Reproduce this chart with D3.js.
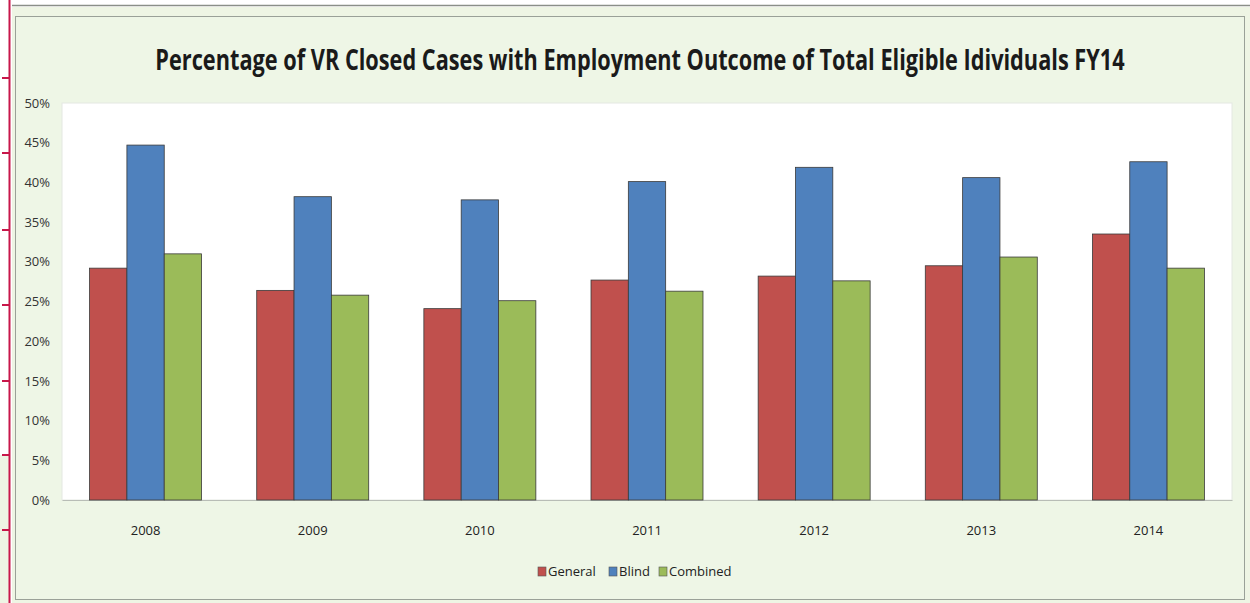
<!DOCTYPE html>
<html>
<head>
<meta charset="utf-8">
<script src="https://cdn.jsdelivr.net/npm/d3@7"></script>
<style>
  html, body { margin: 0; padding: 0; background: #ffffff; }
  svg { display: block; }
  text { font-family: "Open Sans", "DejaVu Sans", sans-serif; }
</style>
</head>
<body>
<svg id="chart" width="1250" height="603"></svg>
<script>
// Fiscal years on the x axis
const years = ["2008", "2009", "2010", "2011", "2012", "2013", "2014"];
// Series names
const seriesNames = ["General", "Blind", "Combined"];
// Percent of closed cases with an employment outcome
const generalValues  = [29.2, 26.4, 24.1, 27.7, 28.2, 29.5, 33.5];
const blindValues    = [44.7, 38.2, 37.8, 40.1, 41.9, 40.6, 42.6];
const combinedValues = [31.0, 25.8, 25.1, 26.3, 27.6, 30.6, 29.2];
// Y axis ticks
const yTicks = [0, 5, 10, 15, 20, 25, 30, 35, 40, 45, 50];

const colors = { General: "#c0504d", Blind: "#4f81bd", Combined: "#9bbb59" };
const seriesValues = { General: generalValues, Blind: blindValues, Combined: combinedValues };

const svg = d3.select("#chart");

// Ruler strip on the far left
svg.append("rect").attr("x", 0).attr("y", 455).attr("width", 9).attr("height", 148).attr("fill", "#eef5e4");
svg.append("line").attr("x1", 9.5).attr("x2", 9.5).attr("y1", 0).attr("y2", 603)
  .attr("stroke", "#c8174a").attr("stroke-width", 2);
[78, 153, 230, 305, 381, 455, 530].forEach(y => {
  svg.append("line").attr("x1", 2).attr("x2", 10).attr("y1", y).attr("y2", y)
    .attr("stroke", "#c8174a").attr("stroke-width", 2);
});

// Outer frame
svg.append("line").attr("x1", 12).attr("x2", 1250).attr("y1", 5.5).attr("y2", 5.5)
  .attr("stroke", "#8a8f88").attr("stroke-width", 1.5);
svg.append("rect").attr("x", 12).attr("y", 7).attr("width", 1238).attr("height", 596).attr("fill", "#eef5e4");
svg.append("rect").attr("x", 15.5).attr("y", 16.5).attr("width", 1229).attr("height", 583)
  .attr("fill", "#eef6e6").attr("stroke", "#9aa198").attr("stroke-width", 1);

const margin = { left: 62, right: 1232, top: 103, bottom: 500 };

// Plot area
svg.append("rect").attr("x", margin.left).attr("y", margin.top)
  .attr("width", margin.right - margin.left).attr("height", margin.bottom - margin.top)
  .attr("fill", "#ffffff").attr("stroke", "#e4e8e2").attr("stroke-width", 1);

const x0 = d3.scaleBand().domain(years).range([margin.left, margin.right]).paddingInner(0.33).paddingOuter(0.165);
const x1 = d3.scaleBand().domain(seriesNames).range([0, x0.bandwidth()]);
const y = d3.scaleLinear().domain([0, 50]).range([margin.bottom, margin.top]);

// Title, condensed horizontally to the width of the chart heading
const title = svg.append("text")
  .attr("text-anchor", "middle")
  .attr("font-size", 28).attr("font-weight", "bold").attr("fill", "#1a1a1a")
  .text("Percentage of VR Closed Cases with Employment Outcome of Total Eligible Idividuals FY14");
const titleW = title.node().getComputedTextLength();
title.attr("transform", `translate(640,70) scale(${970 / titleW},1)`);

// Y axis
const yAxis = d3.axisLeft(y).tickValues(yTicks).tickFormat(d => d + "%").tickSize(0).tickPadding(12);
const gy = svg.append("g").attr("transform", `translate(${margin.left},0)`).call(yAxis);
gy.select(".domain").remove();
gy.selectAll("text").attr("font-size", 13).attr("fill", "#333").attr("font-family", "'Open Sans', sans-serif");

// X axis
const xAxis = d3.axisBottom(x0).tickSize(0).tickPadding(26);
const gx = svg.append("g").attr("transform", `translate(0,${margin.bottom})`).call(xAxis);
gx.select(".domain").attr("stroke", "#b8bdb6");
gx.selectAll("text").attr("font-size", 13).attr("fill", "#222").attr("font-family", "'Open Sans', sans-serif");

// Bars
const groups = svg.append("g").selectAll("g").data(years).join("g")
  .attr("transform", d => `translate(${x0(d)},0)`);
groups.selectAll("rect")
  .data((d, i) => seriesNames.map(s => ({ s, v: seriesValues[s][i] })))
  .join("rect")
  .attr("x", d => x1(d.s))
  .attr("y", d => y(d.v))
  .attr("width", x1.bandwidth())
  .attr("height", d => y(0) - y(d.v))
  .attr("fill", d => colors[d.s])
  .attr("stroke", "#3a3a3a").attr("stroke-width", 0.8);

// Legend
const legend = svg.append("g").attr("transform", "translate(538,566)");
const legendX = [0, 71, 121];
seriesNames.forEach((s, i) => {
  const g = legend.append("g").attr("transform", `translate(${legendX[i]},0)`);
  g.append("rect").attr("width", 8).attr("height", 9).attr("y", 1)
    .attr("fill", colors[s]).attr("stroke", "#555").attr("stroke-width", 0.6);
  g.append("text").attr("x", 10).attr("y", 10).attr("font-size", 13).attr("fill", "#222").text(s);
});
</script>
</body>
</html>
